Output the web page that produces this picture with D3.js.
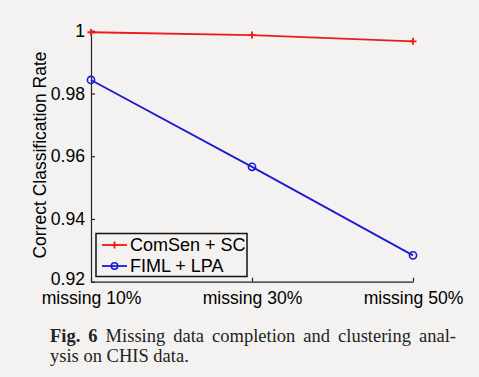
<!DOCTYPE html>
<html>
<head>
<meta charset="utf-8">
<script src="https://cdn.jsdelivr.net/npm/d3@7"></script>
<style>
  body { margin: 0; background: #f3f2f0; }
  svg { display: block; }
  .tick text { font-family: "Liberation Sans", Arial, sans-serif; font-size: 17.6px; fill: #000; }
</style>
</head>
<body>
<div id="chart"></div>
<script>
//////////////////////////////////////////////// Data ////////////////////////////////////////////////
const categories = ["missing 10%", "missing 30%", "missing 50%"];
const seriesNames = ["ComSen + SC", "FIML + LPA"];
const comsenSC = [0.9995, 0.9986, 0.9966];
const fimlLPA = [0.9843, 0.9566, 0.9284];
const yTicks = [0.92, 0.94, 0.96, 0.98, 1];
const yTickLabels = ["0.92", "0.94", "0.96", "0.98", "1"];

//////////////////////////////////////////////// Set-up ////////////////////////////////////////////////
const W = 479, H = 377;
const plot = {left: 91, right: 413, top: 30.7, bottom: 281.7};
const colors = ["#ec1b1b", "#1b1bd0"];

const svg = d3.select("#chart").append("svg")
    .attr("width", W)
    .attr("height", H);

svg.append("rect").attr("width", W).attr("height", H).attr("fill", "#f3f2f0");

const x = d3.scalePoint()
    .domain(categories)
    .range([plot.left, plot.right])
    .padding(0);

const y = d3.scaleLinear()
    .domain([0.92, 1])
    .range([plot.bottom, plot.top]);

//////////////////////////////////////////////// Axes ////////////////////////////////////////////////
const yAxis = svg.append("g")
    .attr("transform", "translate(" + plot.left + ",0)")
    .call(d3.axisLeft(y)
      .tickValues(yTicks)
      .tickFormat(function(d, i) { return yTickLabels[i]; })
      .tickSizeInner(-4)
      .tickSizeOuter(0)
      .tickPadding(6));

// the lowest label sits a little high, like in the original
yAxis.selectAll(".tick text").filter(function(d) { return d === 0.92; }).attr("dy", "0.15em");

const xAxis = svg.append("g")
    .attr("transform", "translate(0," + plot.bottom + ")")
    .call(d3.axisBottom(x)
      .tickSizeInner(-4)
      .tickSizeOuter(0)
      .tickPadding(6));

svg.selectAll(".domain, .tick line")
    .attr("stroke", "#222")
    .attr("stroke-width", 1.2);

xAxis.selectAll(".tick text").attr("dy", "0.9em");

// y label
svg.append("text")
    .attr("transform", "translate(46," + 155 + ") rotate(-90)")
    .attr("text-anchor", "middle")
    .style("font-family", "'Liberation Sans', Arial, sans-serif")
    .style("font-size", "17.5px")
    .style("fill", "#000")
    .text("Correct Classification Rate");

//////////////////////////////////////////////// Lines ////////////////////////////////////////////////
const allSeries = [comsenSC, fimlLPA];
const line = d3.line()
    .x(function(d, i) { return x(categories[i]); })
    .y(function(d) { return y(d); });

allSeries.forEach(function(vals, s) {
  svg.append("path")
    .datum(vals)
    .attr("fill", "none")
    .attr("stroke", colors[s])
    .attr("stroke-width", 1.8)
    .attr("d", line);
});

// + markers on the red series
svg.selectAll(".plus")
  .data(comsenSC)
  .enter().append("path")
    .attr("class", "plus")
    .attr("transform", function(d, i) { return "translate(" + x(categories[i]) + "," + y(d) + ")"; })
    .attr("d", "M-3.5,0H3.5M0,-3.5V3.5")
    .attr("stroke", colors[0])
    .attr("stroke-width", 1.8);

// o markers on the blue series
svg.selectAll(".circ")
  .data(fimlLPA)
  .enter().append("circle")
    .attr("class", "circ")
    .attr("cx", function(d, i) { return x(categories[i]); })
    .attr("cy", function(d) { return y(d); })
    .attr("r", 3.6)
    .attr("fill", "none")
    .attr("stroke", colors[1])
    .attr("stroke-width", 1.6);

//////////////////////////////////////////////// Legend ////////////////////////////////////////////////
const legend = svg.append("g").attr("transform", "translate(96,233.5)");

legend.append("rect")
    .attr("width", 151)
    .attr("height", 43)
    .attr("fill", "#f3f2f0")
    .attr("stroke", "#111")
    .attr("stroke-width", 1.5);

const rows = legend.selectAll(".row")
  .data(seriesNames)
  .enter().append("g")
    .attr("class", "row")
    .attr("transform", function(d, i) { return "translate(0," + (11.5 + i * 21) + ")"; });

rows.append("line")
    .attr("x1", 6).attr("x2", 31)
    .attr("stroke", function(d, i) { return colors[i]; })
    .attr("stroke-width", 1.8);

rows.filter(function(d, i) { return i === 0; }).append("path")
    .attr("d", "M15,0H22M18.5,-3.5V3.5")
    .attr("stroke", colors[0])
    .attr("stroke-width", 1.8);

rows.filter(function(d, i) { return i === 1; }).append("circle")
    .attr("cx", 18.5).attr("r", 3.2)
    .attr("fill", "none")
    .attr("stroke", colors[1])
    .attr("stroke-width", 1.6);

rows.append("text")
    .attr("x", 34)
    .attr("dy", "0.36em")
    .style("font-family", "'Liberation Sans', Arial, sans-serif")
    .style("font-size", "18px")
    .style("fill", "#000")
    .text(function(d) { return d; });

//////////////////////////////////////////////// Caption ////////////////////////////////////////////////
const capFont = "'Liberation Serif', 'Times New Roman', serif";
const cap = svg.append("text")
    .attr("x", 50)
    .attr("y", 342)
    .style("font-family", capFont)
    .style("font-size", "18.5px")
    .style("fill", "#222");

cap.append("tspan").style("font-weight", "bold").text("Fig. 6");
cap.append("tspan").text(" Missing data completion and clustering anal-");

// justified first line: stretch the word gaps to the right margin
const capLen = cap.node().getComputedTextLength();
cap.style("word-spacing", Math.max(0, (456 - 50 - capLen) / 7) + "px");

svg.append("text")
    .attr("x", 50)
    .attr("y", 362)
    .style("font-family", capFont)
    .style("font-size", "18.5px")
    .style("fill", "#222")
    .text("ysis on CHIS data.");
</script>
</body>
</html>
